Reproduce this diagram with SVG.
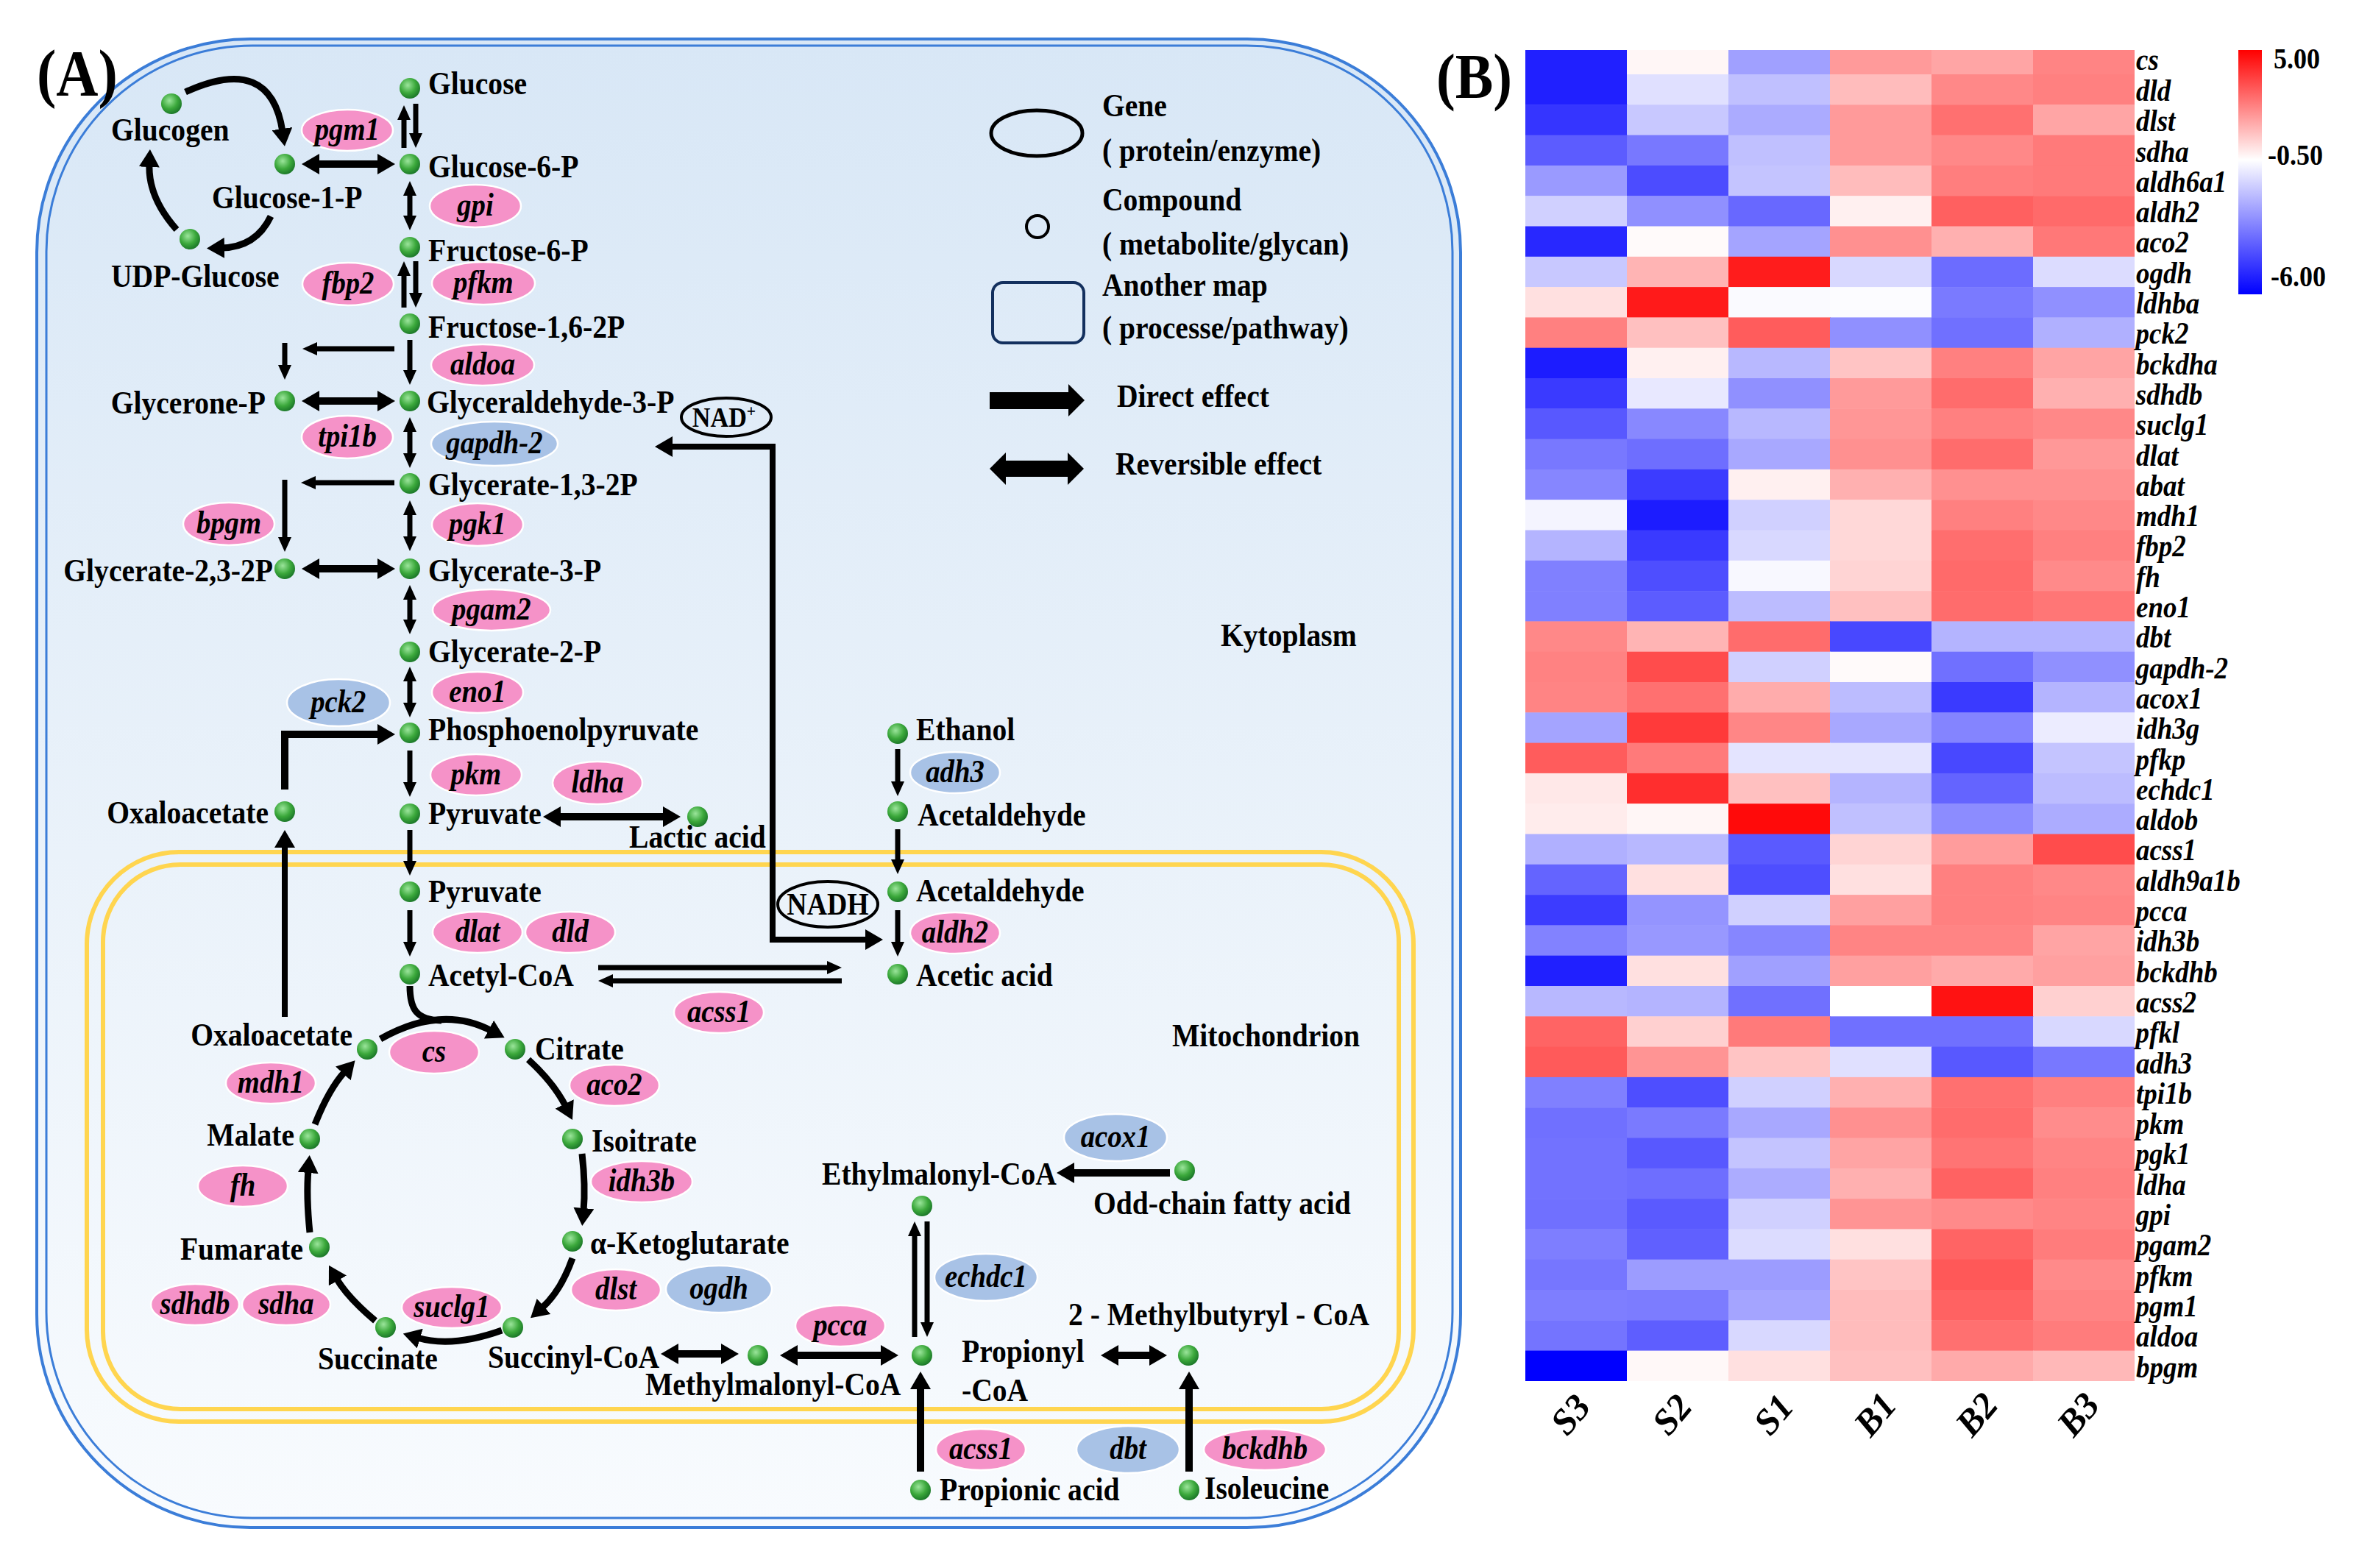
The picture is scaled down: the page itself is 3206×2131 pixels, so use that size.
<svg xmlns="http://www.w3.org/2000/svg" width="3206" height="2131" viewBox="0 0 3206 2131">
<style>
text{font-family:"Liberation Serif","Times New Roman",serif;fill:#000}
.c{font-weight:bold;font-size:44px;transform-box:fill-box;transform-origin:0 50%;transform:scale(0.9,1)}
.c.r{transform-origin:100% 50%}
.c.m{transform-origin:50% 50%}
.e{font-weight:bold;font-style:italic;font-size:44px;text-anchor:middle;transform-box:fill-box;transform-origin:50% 50%;transform:scale(0.88,1)}
.h{font-weight:bold;font-style:italic;font-size:42px;transform-box:fill-box;transform-origin:0 50%;transform:scale(0.88,1)}
.ln{fill:none;stroke:#000;stroke-width:7}
.tk{fill:none;stroke:#000;stroke-width:10}
.cv{fill:none;stroke:#000;stroke-width:9}
.pk{fill:#f592c8;stroke:#fff;stroke-width:2.5}
.bl{fill:#a8c2e6;stroke:#fff;stroke-width:2.5}
.dot{fill:url(#g)}
</style>
<defs>
<linearGradient id="cyto" x1="0" y1="0" x2="0" y2="1">
<stop offset="0" stop-color="#d8e7f6"/><stop offset="0.55" stop-color="#eaf2fa"/><stop offset="1" stop-color="#f8fbfe"/>
</linearGradient>
<linearGradient id="cbar" x1="0" y1="0" x2="0" y2="1">
<stop offset="0" stop-color="#ff0000"/><stop offset="0.45" stop-color="#ffffff"/><stop offset="1" stop-color="#0000ff"/>
</linearGradient>
<radialGradient id="g" cx="0.4" cy="0.35" r="0.65">
<stop offset="0" stop-color="#9be59b"/><stop offset="0.6" stop-color="#3ba83b"/><stop offset="1" stop-color="#1d7a2a"/>
</radialGradient>
<marker id="a" viewBox="0 0 20 18" refX="6" refY="9" markerWidth="20" markerHeight="18" markerUnits="userSpaceOnUse" orient="auto-start-reverse"><path d="M0,0 L20,9 L0,18 Z"/></marker>
<marker id="b" viewBox="0 0 24 28" refX="4" refY="14" markerWidth="24" markerHeight="28" markerUnits="userSpaceOnUse" orient="auto-start-reverse"><path d="M0,0 L24,14 L0,28 Z"/></marker>
</defs>
<rect width="3206" height="2131" fill="#fff"/>

<g id="cell">
<rect x="50" y="53" width="1935" height="2023" rx="290" fill="url(#cyto)" stroke="#3b7dd8" stroke-width="4"/>
<rect x="63" y="62" width="1911" height="2001" rx="280" fill="none" stroke="#3b7dd8" stroke-width="3"/>
</g>
<g id="mitochondrion">
<rect x="118" y="1158" width="1803" height="774" rx="125" fill="none" stroke="#ffd54f" stroke-width="6"/>
<rect x="140" y="1175" width="1761" height="740" rx="105" fill="none" stroke="#ffd54f" stroke-width="6"/>
</g>
<text class="c" x="50" y="129" style="font-size:88px">(A)</text>
<text class="c" x="1659" y="878">Kytoplasm</text>
<text class="c" x="1593" y="1422">Mitochondrion</text>

<g id="legend">
<ellipse cx="1409" cy="181" rx="62" ry="31" fill="none" stroke="#000" stroke-width="5"/>
<text class="c" x="1498" y="158">Gene</text>
<text class="c" x="1498" y="219">( protein/enzyme)</text>
<circle cx="1410" cy="308" r="15" fill="none" stroke="#000" stroke-width="4"/>
<text class="c" x="1498" y="286">Compound</text>
<text class="c" x="1498" y="346">( metabolite/glycan)</text>
<rect x="1349" y="384" width="124" height="82" rx="14" fill="none" stroke="#13305e" stroke-width="4"/>
<text class="c" x="1498" y="402">Another map</text>
<text class="c" x="1498" y="460">( processe/pathway)</text>
<polygon points="1345,533 1452,533 1452,522 1474,544 1452,566 1452,556 1345,556"/>
<text class="c" x="1518" y="553">Direct effect</text>
<polygon points="1345,637 1367,615 1367,626 1451,626 1451,615 1473,637 1451,659 1451,648 1367,648 1367,659"/>
<text class="c" x="1516" y="645">Reversible effect</text>
</g>

<g id="connectors">
<path class="ln" d="M549,201 L549,157" marker-end="url(#a)"/>
<path class="ln" d="M565,141 L565,187" marker-end="url(#a)"/>
<path class="ln" d="M557,260 L557,299" marker-start="url(#a)" marker-end="url(#a)"/>
<path class="ln" d="M549,418 L549,369" marker-end="url(#a)"/>
<path class="ln" d="M565,355 L565,404" marker-end="url(#a)"/>
<path class="ln" d="M557,462 L557,509" marker-end="url(#a)"/>
<path class="ln" d="M536,474 L425,474" marker-end="url(#a)"/>
<path class="ln" d="M387,466 L387,502" marker-end="url(#a)"/>
<path class="ln" d="M557,581 L557,622" marker-start="url(#a)" marker-end="url(#a)"/>
<path class="ln" d="M536,656 L423,656" marker-end="url(#a)"/>
<path class="ln" d="M387,652 L387,736" marker-end="url(#a)"/>
<path class="ln" d="M557,694 L557,735" marker-start="url(#a)" marker-end="url(#a)"/>
<path class="ln" d="M557,809 L557,848" marker-start="url(#a)" marker-end="url(#a)"/>
<path class="ln" d="M557,920 L557,961" marker-start="url(#a)" marker-end="url(#a)"/>
<path class="ln" d="M557,1020 L557,1069" marker-end="url(#a)"/>
<path class="ln" d="M557,1128 L557,1176" marker-end="url(#a)"/>
<path class="ln" d="M557,1237 L557,1286" marker-end="url(#a)"/>
<path class="ln" d="M1220,1018 L1220,1068" marker-end="url(#a)"/>
<path class="ln" d="M1220,1127 L1220,1174" marker-end="url(#a)"/>
<path class="ln" d="M1220,1237 L1220,1286" marker-end="url(#a)"/>
<path class="ln" d="M1243,1817 L1243,1674" marker-end="url(#a)"/>
<path class="ln" d="M1260,1660 L1260,1803" marker-end="url(#a)"/>
<path class="ln" d="M813,1315 L1130,1315" marker-end="url(#a)"/>
<path class="ln" d="M1144,1333 L827,1333" marker-end="url(#a)"/>
<path class="tk" d="M430,223 L517,223" marker-start="url(#b)" marker-end="url(#b)"/>
<path class="tk" d="M430,545 L517,545" marker-start="url(#b)" marker-end="url(#b)"/>
<path class="tk" d="M430,773 L517,773" marker-start="url(#b)" marker-end="url(#b)"/>
<path class="tk" d="M387,1073 L387,998 L517,998" marker-end="url(#b)"/>
<path class="tk" d="M758,1110 L905,1110" marker-start="url(#b)" marker-end="url(#b)"/>
<path class="tk" style="stroke-width:8" d="M387,1382 L387,1148" marker-end="url(#b)"/>
<path class="tk" d="M1590,1594 L1456,1594" marker-end="url(#b)"/>
<path class="tk" d="M918,1840 L984,1840" marker-start="url(#b)" marker-end="url(#b)"/>
<path class="tk" d="M1080,1842 L1201,1842" marker-start="url(#b)" marker-end="url(#b)"/>
<path class="tk" d="M1516,1842 L1566,1842" marker-start="url(#b)" marker-end="url(#b)"/>
<path class="tk" d="M1251,2000 L1251,1884" marker-end="url(#b)"/>
<path class="tk" d="M1616,2000 L1616,1884" marker-end="url(#b)"/>
<path class="tk" style="stroke-width:8" d="M1180,1277 L1050,1277 L1050,607 L910,607" marker-start="url(#b)" marker-end="url(#b)"/>
<path class="cv" d="M252,125 Q368,72 384,179" marker-end="url(#b)"/>
<path class="cv" d="M368,294 Q348,336 301,337" marker-end="url(#b)"/>
<path class="cv" d="M240,312 Q201,268 203,223" marker-end="url(#b)"/>
<path class="cv" d="M517,1412 Q600,1365 668,1401" marker-end="url(#b)"/>
<path class="cv" d="M557,1340 C557,1372 566,1386 600,1387"/>
<path class="cv" d="M718,1440 Q753,1472 769,1504" marker-end="url(#b)"/>
<path class="cv" d="M791,1568 Q796,1612 793,1646" marker-end="url(#b)"/>
<path class="cv" d="M778,1710 Q762,1755 736,1778" marker-end="url(#b)"/>
<path class="cv" d="M682,1808 Q615,1832 567,1818" marker-end="url(#b)"/>
<path class="cv" d="M510,1795 Q472,1763 457,1737" marker-end="url(#b)"/>
<path class="cv" d="M421,1675 Q416,1625 419,1590" marker-end="url(#b)"/>
<path class="cv" d="M428,1528 Q447,1480 469,1456" marker-end="url(#b)"/>
</g>

<g id="cofactors">
<g id="nadplus"><ellipse cx="987" cy="567" rx="61" ry="26" fill="none" stroke="#000" stroke-width="4"/><text class="c m" x="984" y="580" text-anchor="middle" style="font-size:38px">NAD<tspan dy="-14" style="font-size:24px">+</tspan></text></g>
<g id="nadh"><ellipse cx="1125" cy="1229" rx="68" ry="31" fill="none" stroke="#000" stroke-width="4"/><text class="c m" x="1125" y="1243" text-anchor="middle" style="font-size:42px">NADH</text></g>
</g>

<g id="enzymes">
<g id="e-pgm1"><ellipse class="pk" cx="472" cy="177" rx="62" ry="28"/><text class="e" x="472" y="190">pgm1</text></g>
<g id="e-gpi"><ellipse class="pk" cx="646" cy="280" rx="62" ry="29"/><text class="e" x="646" y="293">gpi</text></g>
<g id="e-fbp2"><ellipse class="pk" cx="473" cy="386" rx="62" ry="29"/><text class="e" x="473" y="399">fbp2</text></g>
<g id="e-pfkm"><ellipse class="pk" cx="657" cy="385" rx="70" ry="29"/><text class="e" x="657" y="398">pfkm</text></g>
<g id="e-aldoa"><ellipse class="pk" cx="656" cy="496" rx="70" ry="28"/><text class="e" x="656" y="509">aldoa</text></g>
<g id="e-tpi1b"><ellipse class="pk" cx="472" cy="594" rx="62" ry="29"/><text class="e" x="472" y="607">tpi1b</text></g>
<g id="e-gapdh2"><ellipse class="bl" cx="672" cy="603" rx="86" ry="30"/><text class="e" x="672" y="616">gapdh-2</text></g>
<g id="e-bpgm"><ellipse class="pk" cx="311" cy="712" rx="62" ry="29"/><text class="e" x="311" y="725">bpgm</text></g>
<g id="e-pgk1"><ellipse class="pk" cx="649" cy="713" rx="62" ry="29"/><text class="e" x="649" y="726">pgk1</text></g>
<g id="e-pgam2"><ellipse class="pk" cx="668" cy="829" rx="80" ry="28"/><text class="e" x="668" y="842">pgam2</text></g>
<g id="e-eno1"><ellipse class="pk" cx="649" cy="941" rx="62" ry="28"/><text class="e" x="649" y="954">eno1</text></g>
<g id="e-pck2"><ellipse class="bl" cx="460" cy="955" rx="70" ry="32"/><text class="e" x="460" y="968">pck2</text></g>
<g id="e-pkm"><ellipse class="pk" cx="647" cy="1053" rx="62" ry="28"/><text class="e" x="647" y="1066">pkm</text></g>
<g id="e-ldha"><ellipse class="pk" cx="812" cy="1064" rx="61" ry="29"/><text class="e" x="812" y="1077">ldha</text></g>
<g id="e-adh3"><ellipse class="bl" cx="1298" cy="1050" rx="61" ry="28"/><text class="e" x="1298" y="1063">adh3</text></g>
<g id="e-dlat"><ellipse class="pk" cx="649" cy="1267" rx="61" ry="28"/><text class="e" x="649" y="1280">dlat</text></g>
<g id="e-dld"><ellipse class="pk" cx="775" cy="1267" rx="61" ry="28"/><text class="e" x="775" y="1280">dld</text></g>
<g id="e-aldh2"><ellipse class="pk" cx="1298" cy="1268" rx="61" ry="28"/><text class="e" x="1298" y="1281">aldh2</text></g>
<g id="e-acss1a"><ellipse class="pk" cx="977" cy="1376" rx="61" ry="28"/><text class="e" x="977" y="1389">acss1</text></g>
<g id="e-cs"><ellipse class="pk" cx="590" cy="1430" rx="61" ry="29"/><text class="e" x="590" y="1443">cs</text></g>
<g id="e-mdh1"><ellipse class="pk" cx="368" cy="1472" rx="61" ry="28"/><text class="e" x="368" y="1485">mdh1</text></g>
<g id="e-aco2"><ellipse class="pk" cx="835" cy="1475" rx="61" ry="28"/><text class="e" x="835" y="1488">aco2</text></g>
<g id="e-idh3b"><ellipse class="pk" cx="872" cy="1606" rx="69" ry="28"/><text class="e" x="872" y="1619">idh3b</text></g>
<g id="e-fh"><ellipse class="pk" cx="330" cy="1612" rx="61" ry="28"/><text class="e" x="330" y="1625">fh</text></g>
<g id="e-dlst"><ellipse class="pk" cx="837" cy="1753" rx="61" ry="28"/><text class="e" x="837" y="1766">dlst</text></g>
<g id="e-ogdh"><ellipse class="bl" cx="977" cy="1752" rx="72" ry="32"/><text class="e" x="977" y="1765">ogdh</text></g>
<g id="e-sdhdb"><ellipse class="pk" cx="265" cy="1773" rx="60" ry="28"/><text class="e" x="265" y="1786">sdhdb</text></g>
<g id="e-sdha"><ellipse class="pk" cx="389" cy="1773" rx="60" ry="28"/><text class="e" x="389" y="1786">sdha</text></g>
<g id="e-suclg1"><ellipse class="pk" cx="614" cy="1777" rx="68" ry="28"/><text class="e" x="614" y="1790">suclg1</text></g>
<g id="e-acox1"><ellipse class="bl" cx="1516" cy="1546" rx="70" ry="32"/><text class="e" x="1516" y="1559">acox1</text></g>
<g id="e-echdc1"><ellipse class="bl" cx="1340" cy="1736" rx="70" ry="32"/><text class="e" x="1340" y="1749">echdc1</text></g>
<g id="e-pcca"><ellipse class="pk" cx="1142" cy="1802" rx="61" ry="28"/><text class="e" x="1142" y="1815">pcca</text></g>
<g id="e-acss1b"><ellipse class="pk" cx="1333" cy="1970" rx="61" ry="28"/><text class="e" x="1333" y="1983">acss1</text></g>
<g id="e-dbt"><ellipse class="bl" cx="1533" cy="1970" rx="70" ry="32"/><text class="e" x="1533" y="1983">dbt</text></g>
<g id="e-bckdhb"><ellipse class="pk" cx="1719" cy="1970" rx="83" ry="28"/><text class="e" x="1719" y="1983">bckdhb</text></g>
</g>

<g id="compounds">
<g id="glucose"><circle class="dot" cx="557" cy="120" r="14"/><text class="c" x="582" y="128">Glucose</text></g>
<g id="glucogen"><circle class="dot" cx="233" cy="141" r="14"/><text class="c" x="151" y="191">Glucogen</text></g>
<g id="glucose6p"><circle class="dot" cx="557" cy="223" r="14"/><text class="c" x="582" y="241">Glucose-6-P</text></g>
<g id="glucose1p"><circle class="dot" cx="387" cy="223" r="14"/><text class="c" x="288" y="283">Glucose-1-P</text></g>
<g id="udpglucose"><circle class="dot" cx="258" cy="325" r="14"/><text class="c" x="151" y="390">UDP-Glucose</text></g>
<g id="fructose6p"><circle class="dot" cx="557" cy="336" r="14"/><text class="c" x="582" y="355">Fructose-6-P</text></g>
<g id="fructose16"><circle class="dot" cx="557" cy="440" r="14"/><text class="c" x="582" y="459">Fructose-1,6-2P</text></g>
<g id="gap"><circle class="dot" cx="557" cy="545" r="14"/><text class="c" x="580" y="561">Glyceraldehyde-3-P</text></g>
<g id="glyceronep"><circle class="dot" cx="387" cy="545" r="14"/><text class="c r" x="361" y="562" text-anchor="end">Glycerone-P</text></g>
<g id="g13"><circle class="dot" cx="557" cy="657" r="14"/><text class="c" x="582" y="673">Glycerate-1,3-2P</text></g>
<g id="g3p"><circle class="dot" cx="557" cy="773" r="14"/><text class="c" x="582" y="790">Glycerate-3-P</text></g>
<g id="g23"><circle class="dot" cx="387" cy="773" r="14"/><text class="c r" x="371" y="790" text-anchor="end">Glycerate-2,3-2P</text></g>
<g id="g2p"><circle class="dot" cx="557" cy="886" r="14"/><text class="c" x="582" y="900">Glycerate-2-P</text></g>
<g id="pep"><circle class="dot" cx="557" cy="996" r="14"/><text class="c" x="582" y="1006">Phosphoenolpyruvate</text></g>
<g id="pyruvate"><circle class="dot" cx="557" cy="1106" r="14"/><text class="c" x="582" y="1120">Pyruvate</text></g>
<g id="lactic"><circle class="dot" cx="948" cy="1110" r="14"/><text class="c" x="855" y="1152">Lactic acid</text></g>
<g id="oaa-cyto"><circle class="dot" cx="387" cy="1103" r="14"/><text class="c r" x="365" y="1119" text-anchor="end">Oxaloacetate</text></g>
<g id="ethanol"><circle class="dot" cx="1220" cy="997" r="14"/><text class="c" x="1245" y="1006">Ethanol</text></g>
<g id="acetald1"><circle class="dot" cx="1220" cy="1103" r="14"/><text class="c" x="1247" y="1122">Acetaldehyde</text></g>
<g id="pyruvate-m"><circle class="dot" cx="557" cy="1212" r="14"/><text class="c" x="582" y="1226">Pyruvate</text></g>
<g id="acetald2"><circle class="dot" cx="1220" cy="1212" r="14"/><text class="c" x="1245" y="1225">Acetaldehyde</text></g>
<g id="acetylcoa"><circle class="dot" cx="557" cy="1324" r="14"/><text class="c" x="582" y="1340">Acetyl-CoA</text></g>
<g id="acetic"><circle class="dot" cx="1220" cy="1324" r="14"/><text class="c" x="1245" y="1340">Acetic acid</text></g>
<g id="oaa-tca"><circle class="dot" cx="499" cy="1426" r="14"/><text class="c r" x="479" y="1421" text-anchor="end">Oxaloacetate</text></g>
<g id="citrate"><circle class="dot" cx="700" cy="1426" r="14"/><text class="c" x="727" y="1440">Citrate</text></g>
<g id="isoitrate"><circle class="dot" cx="778" cy="1548" r="14"/><text class="c" x="804" y="1565">Isoitrate</text></g>
<g id="akg"><circle class="dot" cx="778" cy="1687" r="14"/><text class="c" x="802" y="1704">α-Ketoglutarate</text></g>
<g id="succcoa"><circle class="dot" cx="697" cy="1804" r="14"/><text class="c" x="663" y="1859">Succinyl-CoA</text></g>
<g id="succinate"><circle class="dot" cx="524" cy="1804" r="14"/><text class="c" x="432" y="1861">Succinate</text></g>
<g id="fumarate"><circle class="dot" cx="434" cy="1695" r="14"/><text class="c r" x="412" y="1712" text-anchor="end">Fumarate</text></g>
<g id="malate"><circle class="dot" cx="421" cy="1548" r="14"/><text class="c r" x="400" y="1557" text-anchor="end">Malate</text></g>
<g id="methylmalonyl"><circle class="dot" cx="1030" cy="1842" r="14"/><text class="c" x="877" y="1896">Methylmalonyl-CoA</text></g>
<g id="propionyl"><circle class="dot" cx="1253" cy="1842" r="14"/><text class="c" x="1307" y="1851">Propionyl</text><text class="c" x="1307" y="1904">-CoA</text></g>
<g id="ethylmalonyl"><circle class="dot" cx="1253" cy="1639" r="14"/><text class="c" x="1117" y="1610">Ethylmalonyl-CoA</text></g>
<g id="oddchain"><circle class="dot" cx="1610" cy="1591" r="14"/><text class="c" x="1486" y="1650">Odd-chain fatty acid</text></g>
<g id="methylbutyryl"><circle class="dot" cx="1615" cy="1842" r="14"/><text class="c" x="1452" y="1801">2 - Methylbutyryl - CoA</text></g>
<g id="propionic"><circle class="dot" cx="1251" cy="2025" r="14"/><text class="c" x="1277" y="2039">Propionic acid</text></g>
<g id="isoleucine"><circle class="dot" cx="1616" cy="2025" r="14"/><text class="c" x="1637" y="2037">Isoleucine</text></g>
</g>

<text class="c" x="1952" y="133" style="font-size:86px">(B)</text>
<g id="heatmap">
<g transform="translate(0,68)"><rect x="2073" width="139" height="33.5" fill="#2020ff"/><rect x="2211" width="139" height="33.5" fill="#fff6f6"/><rect x="2349" width="139" height="33.5" fill="#a0a0ff"/><rect x="2487" width="139" height="33.5" fill="#ff9a9a"/><rect x="2625" width="139" height="33.5" fill="#ffa5a5"/><rect x="2763" width="138" height="33.5" fill="#ff8484"/></g>
<g transform="translate(0,101)"><rect x="2073" width="139" height="41.8" fill="#2020ff"/><rect x="2211" width="139" height="41.8" fill="#e0e0ff"/><rect x="2349" width="139" height="41.8" fill="#c0c0ff"/><rect x="2487" width="139" height="41.8" fill="#ffbcbc"/><rect x="2625" width="139" height="41.8" fill="#ff8888"/><rect x="2763" width="138" height="41.8" fill="#ff8080"/></g>
<g transform="translate(0,142.3)"><rect x="2073" width="139" height="41.8" fill="#3535ff"/><rect x="2211" width="139" height="41.8" fill="#c8c8ff"/><rect x="2349" width="139" height="41.8" fill="#ababff"/><rect x="2487" width="139" height="41.8" fill="#ff9a9a"/><rect x="2625" width="139" height="41.8" fill="#ff7070"/><rect x="2763" width="138" height="41.8" fill="#ffa5a5"/></g>
<g transform="translate(0,183.6)"><rect x="2073" width="139" height="41.8" fill="#5c5cff"/><rect x="2211" width="139" height="41.8" fill="#7878ff"/><rect x="2349" width="139" height="41.8" fill="#c0c0ff"/><rect x="2487" width="139" height="41.8" fill="#ff9a9a"/><rect x="2625" width="139" height="41.8" fill="#ff8888"/><rect x="2763" width="138" height="41.8" fill="#ff7a7a"/></g>
<g transform="translate(0,224.9)"><rect x="2073" width="139" height="41.8" fill="#9a9aff"/><rect x="2211" width="139" height="41.8" fill="#4c4cff"/><rect x="2349" width="139" height="41.8" fill="#c4c4ff"/><rect x="2487" width="139" height="41.8" fill="#ffbcbc"/><rect x="2625" width="139" height="41.8" fill="#ff7e7e"/><rect x="2763" width="138" height="41.8" fill="#ff7a7a"/></g>
<g transform="translate(0,266.2)"><rect x="2073" width="139" height="41.8" fill="#d0d0ff"/><rect x="2211" width="139" height="41.8" fill="#9090ff"/><rect x="2349" width="139" height="41.8" fill="#6868ff"/><rect x="2487" width="139" height="41.8" fill="#fff0f0"/><rect x="2625" width="139" height="41.8" fill="#ff6060"/><rect x="2763" width="138" height="41.8" fill="#ff6a6a"/></g>
<g transform="translate(0,307.5)"><rect x="2073" width="139" height="41.8" fill="#2828ff"/><rect x="2211" width="139" height="41.8" fill="#fffafa"/><rect x="2349" width="139" height="41.8" fill="#a4a4ff"/><rect x="2487" width="139" height="41.8" fill="#ff9090"/><rect x="2625" width="139" height="41.8" fill="#ffb0b0"/><rect x="2763" width="138" height="41.8" fill="#ff7878"/></g>
<g transform="translate(0,348.8)"><rect x="2073" width="139" height="41.8" fill="#c8c8ff"/><rect x="2211" width="139" height="41.8" fill="#ffb4b4"/><rect x="2349" width="139" height="41.8" fill="#ff1c1c"/><rect x="2487" width="139" height="41.8" fill="#d8d8ff"/><rect x="2625" width="139" height="41.8" fill="#6c6cff"/><rect x="2763" width="138" height="41.8" fill="#dcdcff"/></g>
<g transform="translate(0,390.1)"><rect x="2073" width="139" height="41.8" fill="#ffe0e0"/><rect x="2211" width="139" height="41.8" fill="#ff1a1a"/><rect x="2349" width="139" height="41.8" fill="#fafaff"/><rect x="2487" width="139" height="41.8" fill="#fcfcff"/><rect x="2625" width="139" height="41.8" fill="#7a7aff"/><rect x="2763" width="138" height="41.8" fill="#9090ff"/></g>
<g transform="translate(0,431.4)"><rect x="2073" width="139" height="41.8" fill="#ff8080"/><rect x="2211" width="139" height="41.8" fill="#ffc0c0"/><rect x="2349" width="139" height="41.8" fill="#ff5c5c"/><rect x="2487" width="139" height="41.8" fill="#9090ff"/><rect x="2625" width="139" height="41.8" fill="#7070ff"/><rect x="2763" width="138" height="41.8" fill="#b0b0ff"/></g>
<g transform="translate(0,472.7)"><rect x="2073" width="139" height="41.8" fill="#1c1cff"/><rect x="2211" width="139" height="41.8" fill="#fff0f0"/><rect x="2349" width="139" height="41.8" fill="#b8b8ff"/><rect x="2487" width="139" height="41.8" fill="#ffc4c4"/><rect x="2625" width="139" height="41.8" fill="#ff8080"/><rect x="2763" width="138" height="41.8" fill="#ffa4a4"/></g>
<g transform="translate(0,514)"><rect x="2073" width="139" height="41.8" fill="#3a3aff"/><rect x="2211" width="139" height="41.8" fill="#e8e8ff"/><rect x="2349" width="139" height="41.8" fill="#9090ff"/><rect x="2487" width="139" height="41.8" fill="#ff9a9a"/><rect x="2625" width="139" height="41.8" fill="#ff6c6c"/><rect x="2763" width="138" height="41.8" fill="#ffb0b0"/></g>
<g transform="translate(0,555.3)"><rect x="2073" width="139" height="41.8" fill="#5858ff"/><rect x="2211" width="139" height="41.8" fill="#8888ff"/><rect x="2349" width="139" height="41.8" fill="#b8b8ff"/><rect x="2487" width="139" height="41.8" fill="#ff9696"/><rect x="2625" width="139" height="41.8" fill="#ff8080"/><rect x="2763" width="138" height="41.8" fill="#ff8888"/></g>
<g transform="translate(0,596.6)"><rect x="2073" width="139" height="41.8" fill="#7878ff"/><rect x="2211" width="139" height="41.8" fill="#6e6eff"/><rect x="2349" width="139" height="41.8" fill="#a8a8ff"/><rect x="2487" width="139" height="41.8" fill="#ff9090"/><rect x="2625" width="139" height="41.8" fill="#ff6c6c"/><rect x="2763" width="138" height="41.8" fill="#ff9898"/></g>
<g transform="translate(0,637.9)"><rect x="2073" width="139" height="41.8" fill="#8686ff"/><rect x="2211" width="139" height="41.8" fill="#3c3cff"/><rect x="2349" width="139" height="41.8" fill="#fff0f0"/><rect x="2487" width="139" height="41.8" fill="#ffb0b0"/><rect x="2625" width="139" height="41.8" fill="#ff9090"/><rect x="2763" width="138" height="41.8" fill="#ff9090"/></g>
<g transform="translate(0,679.2)"><rect x="2073" width="139" height="41.8" fill="#f4f4ff"/><rect x="2211" width="139" height="41.8" fill="#1c1cff"/><rect x="2349" width="139" height="41.8" fill="#d0d0ff"/><rect x="2487" width="139" height="41.8" fill="#ffd8d8"/><rect x="2625" width="139" height="41.8" fill="#ff8080"/><rect x="2763" width="138" height="41.8" fill="#ff8888"/></g>
<g transform="translate(0,720.5)"><rect x="2073" width="139" height="41.8" fill="#b4b4ff"/><rect x="2211" width="139" height="41.8" fill="#3a3aff"/><rect x="2349" width="139" height="41.8" fill="#d8d8ff"/><rect x="2487" width="139" height="41.8" fill="#ffd8d8"/><rect x="2625" width="139" height="41.8" fill="#ff6e6e"/><rect x="2763" width="138" height="41.8" fill="#ff8080"/></g>
<g transform="translate(0,761.8)"><rect x="2073" width="139" height="41.8" fill="#8080ff"/><rect x="2211" width="139" height="41.8" fill="#4e4eff"/><rect x="2349" width="139" height="41.8" fill="#f8f8ff"/><rect x="2487" width="139" height="41.8" fill="#ffd4d4"/><rect x="2625" width="139" height="41.8" fill="#ff6a6a"/><rect x="2763" width="138" height="41.8" fill="#ff8a8a"/></g>
<g transform="translate(0,803.1)"><rect x="2073" width="139" height="41.8" fill="#8080ff"/><rect x="2211" width="139" height="41.8" fill="#5c5cff"/><rect x="2349" width="139" height="41.8" fill="#bcbcff"/><rect x="2487" width="139" height="41.8" fill="#ffc0c0"/><rect x="2625" width="139" height="41.8" fill="#ff6c6c"/><rect x="2763" width="138" height="41.8" fill="#ff7676"/></g>
<g transform="translate(0,844.4)"><rect x="2073" width="139" height="41.8" fill="#ff8888"/><rect x="2211" width="139" height="41.8" fill="#ffb4b4"/><rect x="2349" width="139" height="41.8" fill="#ff6c6c"/><rect x="2487" width="139" height="41.8" fill="#4848ff"/><rect x="2625" width="139" height="41.8" fill="#b4b4ff"/><rect x="2763" width="138" height="41.8" fill="#b4b4ff"/></g>
<g transform="translate(0,885.7)"><rect x="2073" width="139" height="41.8" fill="#ff8282"/><rect x="2211" width="139" height="41.8" fill="#ff4c4c"/><rect x="2349" width="139" height="41.8" fill="#d0d0ff"/><rect x="2487" width="139" height="41.8" fill="#fffafa"/><rect x="2625" width="139" height="41.8" fill="#7070ff"/><rect x="2763" width="138" height="41.8" fill="#9090ff"/></g>
<g transform="translate(0,927)"><rect x="2073" width="139" height="41.8" fill="#ff8484"/><rect x="2211" width="139" height="41.8" fill="#ff7070"/><rect x="2349" width="139" height="41.8" fill="#ffacac"/><rect x="2487" width="139" height="41.8" fill="#bcbcff"/><rect x="2625" width="139" height="41.8" fill="#3a3aff"/><rect x="2763" width="138" height="41.8" fill="#b4b4ff"/></g>
<g transform="translate(0,968.3)"><rect x="2073" width="139" height="41.8" fill="#a4a4ff"/><rect x="2211" width="139" height="41.8" fill="#ff3a3a"/><rect x="2349" width="139" height="41.8" fill="#ff8686"/><rect x="2487" width="139" height="41.8" fill="#a8a8ff"/><rect x="2625" width="139" height="41.8" fill="#8484ff"/><rect x="2763" width="138" height="41.8" fill="#ececff"/></g>
<g transform="translate(0,1009.6)"><rect x="2073" width="139" height="41.8" fill="#ff5c5c"/><rect x="2211" width="139" height="41.8" fill="#ff7a7a"/><rect x="2349" width="139" height="41.8" fill="#e4e4ff"/><rect x="2487" width="139" height="41.8" fill="#e4e4ff"/><rect x="2625" width="139" height="41.8" fill="#4848ff"/><rect x="2763" width="138" height="41.8" fill="#c4c4ff"/></g>
<g transform="translate(0,1050.9)"><rect x="2073" width="139" height="41.8" fill="#ffe8e8"/><rect x="2211" width="139" height="41.8" fill="#ff2e2e"/><rect x="2349" width="139" height="41.8" fill="#ffc0c0"/><rect x="2487" width="139" height="41.8" fill="#b4b4ff"/><rect x="2625" width="139" height="41.8" fill="#6464ff"/><rect x="2763" width="138" height="41.8" fill="#bcbcff"/></g>
<g transform="translate(0,1092.2)"><rect x="2073" width="139" height="41.8" fill="#ffecec"/><rect x="2211" width="139" height="41.8" fill="#fff6f6"/><rect x="2349" width="139" height="41.8" fill="#ff0a0a"/><rect x="2487" width="139" height="41.8" fill="#c0c0ff"/><rect x="2625" width="139" height="41.8" fill="#8c8cff"/><rect x="2763" width="138" height="41.8" fill="#acacff"/></g>
<g transform="translate(0,1133.5)"><rect x="2073" width="139" height="41.8" fill="#b0b0ff"/><rect x="2211" width="139" height="41.8" fill="#b8b8ff"/><rect x="2349" width="139" height="41.8" fill="#5a5aff"/><rect x="2487" width="139" height="41.8" fill="#ffd4d4"/><rect x="2625" width="139" height="41.8" fill="#ff9c9c"/><rect x="2763" width="138" height="41.8" fill="#ff4c4c"/></g>
<g transform="translate(0,1174.8)"><rect x="2073" width="139" height="41.8" fill="#6464ff"/><rect x="2211" width="139" height="41.8" fill="#ffe0e0"/><rect x="2349" width="139" height="41.8" fill="#4e4eff"/><rect x="2487" width="139" height="41.8" fill="#ffe0e0"/><rect x="2625" width="139" height="41.8" fill="#ff8080"/><rect x="2763" width="138" height="41.8" fill="#ff8888"/></g>
<g transform="translate(0,1216.1)"><rect x="2073" width="139" height="41.8" fill="#3c3cff"/><rect x="2211" width="139" height="41.8" fill="#9494ff"/><rect x="2349" width="139" height="41.8" fill="#d0d0ff"/><rect x="2487" width="139" height="41.8" fill="#ffa0a0"/><rect x="2625" width="139" height="41.8" fill="#ff8080"/><rect x="2763" width="138" height="41.8" fill="#ff8484"/></g>
<g transform="translate(0,1257.4)"><rect x="2073" width="139" height="41.8" fill="#8282ff"/><rect x="2211" width="139" height="41.8" fill="#9898ff"/><rect x="2349" width="139" height="41.8" fill="#8686ff"/><rect x="2487" width="139" height="41.8" fill="#ff8484"/><rect x="2625" width="139" height="41.8" fill="#ff8484"/><rect x="2763" width="138" height="41.8" fill="#ffa4a4"/></g>
<g transform="translate(0,1298.7)"><rect x="2073" width="139" height="41.8" fill="#2020ff"/><rect x="2211" width="139" height="41.8" fill="#ffe0e0"/><rect x="2349" width="139" height="41.8" fill="#a0a0ff"/><rect x="2487" width="139" height="41.8" fill="#ffa0a0"/><rect x="2625" width="139" height="41.8" fill="#ffaaaa"/><rect x="2763" width="138" height="41.8" fill="#ffa0a0"/></g>
<g transform="translate(0,1340)"><rect x="2073" width="139" height="41.8" fill="#b8b8ff"/><rect x="2211" width="139" height="41.8" fill="#b4b4ff"/><rect x="2349" width="139" height="41.8" fill="#7070ff"/><rect x="2487" width="139" height="41.8" fill="#ffffff"/><rect x="2625" width="139" height="41.8" fill="#ff1212"/><rect x="2763" width="138" height="41.8" fill="#ffd0d0"/></g>
<g transform="translate(0,1381.3)"><rect x="2073" width="139" height="41.8" fill="#ff6464"/><rect x="2211" width="139" height="41.8" fill="#ffd0d0"/><rect x="2349" width="139" height="41.8" fill="#ff7a7a"/><rect x="2487" width="139" height="41.8" fill="#7070ff"/><rect x="2625" width="139" height="41.8" fill="#7070ff"/><rect x="2763" width="138" height="41.8" fill="#d8d8ff"/></g>
<g transform="translate(0,1422.6)"><rect x="2073" width="139" height="41.8" fill="#ff5a5a"/><rect x="2211" width="139" height="41.8" fill="#ff9494"/><rect x="2349" width="139" height="41.8" fill="#ffc4c4"/><rect x="2487" width="139" height="41.8" fill="#e0e0ff"/><rect x="2625" width="139" height="41.8" fill="#5858ff"/><rect x="2763" width="138" height="41.8" fill="#7878ff"/></g>
<g transform="translate(0,1463.9)"><rect x="2073" width="139" height="41.8" fill="#8080ff"/><rect x="2211" width="139" height="41.8" fill="#4e4eff"/><rect x="2349" width="139" height="41.8" fill="#d0d0ff"/><rect x="2487" width="139" height="41.8" fill="#ffb0b0"/><rect x="2625" width="139" height="41.8" fill="#ff7070"/><rect x="2763" width="138" height="41.8" fill="#ff8080"/></g>
<g transform="translate(0,1505.2)"><rect x="2073" width="139" height="41.8" fill="#7070ff"/><rect x="2211" width="139" height="41.8" fill="#7a7aff"/><rect x="2349" width="139" height="41.8" fill="#a8a8ff"/><rect x="2487" width="139" height="41.8" fill="#ff9090"/><rect x="2625" width="139" height="41.8" fill="#ff6c6c"/><rect x="2763" width="138" height="41.8" fill="#ff8c8c"/></g>
<g transform="translate(0,1546.5)"><rect x="2073" width="139" height="41.8" fill="#7272ff"/><rect x="2211" width="139" height="41.8" fill="#5858ff"/><rect x="2349" width="139" height="41.8" fill="#c4c4ff"/><rect x="2487" width="139" height="41.8" fill="#ffa4a4"/><rect x="2625" width="139" height="41.8" fill="#ff7474"/><rect x="2763" width="138" height="41.8" fill="#ff8484"/></g>
<g transform="translate(0,1587.8)"><rect x="2073" width="139" height="41.8" fill="#7272ff"/><rect x="2211" width="139" height="41.8" fill="#6e6eff"/><rect x="2349" width="139" height="41.8" fill="#acacff"/><rect x="2487" width="139" height="41.8" fill="#ffb0b0"/><rect x="2625" width="139" height="41.8" fill="#ff6262"/><rect x="2763" width="138" height="41.8" fill="#ff8080"/></g>
<g transform="translate(0,1629.1)"><rect x="2073" width="139" height="41.8" fill="#7070ff"/><rect x="2211" width="139" height="41.8" fill="#5a5aff"/><rect x="2349" width="139" height="41.8" fill="#d0d0ff"/><rect x="2487" width="139" height="41.8" fill="#ff9494"/><rect x="2625" width="139" height="41.8" fill="#ff8a8a"/><rect x="2763" width="138" height="41.8" fill="#ff8484"/></g>
<g transform="translate(0,1670.4)"><rect x="2073" width="139" height="41.8" fill="#7e7eff"/><rect x="2211" width="139" height="41.8" fill="#6060ff"/><rect x="2349" width="139" height="41.8" fill="#dcdcff"/><rect x="2487" width="139" height="41.8" fill="#ffe0e0"/><rect x="2625" width="139" height="41.8" fill="#ff6464"/><rect x="2763" width="138" height="41.8" fill="#ff7c7c"/></g>
<g transform="translate(0,1711.7)"><rect x="2073" width="139" height="41.8" fill="#7676ff"/><rect x="2211" width="139" height="41.8" fill="#9c9cff"/><rect x="2349" width="139" height="41.8" fill="#9c9cff"/><rect x="2487" width="139" height="41.8" fill="#ffc4c4"/><rect x="2625" width="139" height="41.8" fill="#ff5858"/><rect x="2763" width="138" height="41.8" fill="#ff8a8a"/></g>
<g transform="translate(0,1753)"><rect x="2073" width="139" height="41.8" fill="#7e7eff"/><rect x="2211" width="139" height="41.8" fill="#7c7cff"/><rect x="2349" width="139" height="41.8" fill="#a4a4ff"/><rect x="2487" width="139" height="41.8" fill="#ffbcbc"/><rect x="2625" width="139" height="41.8" fill="#ff6262"/><rect x="2763" width="138" height="41.8" fill="#ff8484"/></g>
<g transform="translate(0,1794.3)"><rect x="2073" width="139" height="41.8" fill="#7474ff"/><rect x="2211" width="139" height="41.8" fill="#5e5eff"/><rect x="2349" width="139" height="41.8" fill="#d8d8ff"/><rect x="2487" width="139" height="41.8" fill="#ffbcbc"/><rect x="2625" width="139" height="41.8" fill="#ff7070"/><rect x="2763" width="138" height="41.8" fill="#ff7c7c"/></g>
<g transform="translate(0,1835.6)"><rect x="2073" width="139" height="41.4" fill="#0000ff"/><rect x="2211" width="139" height="41.4" fill="#fff8f8"/><rect x="2349" width="139" height="41.4" fill="#ffe0e0"/><rect x="2487" width="139" height="41.4" fill="#ffc0c0"/><rect x="2625" width="139" height="41.4" fill="#ffaaaa"/><rect x="2763" width="138" height="41.4" fill="#ffb8b8"/></g>
</g>
<g id="heatmap-rows">
<text class="h" x="2903" y="95.5">cs</text>
<text class="h" x="2903" y="137">dld</text>
<text class="h" x="2903" y="178.3">dlst</text>
<text class="h" x="2903" y="219.6">sdha</text>
<text class="h" x="2903" y="260.9">aldh6a1</text>
<text class="h" x="2903" y="302.2">aldh2</text>
<text class="h" x="2903" y="343.5">aco2</text>
<text class="h" x="2903" y="384.8">ogdh</text>
<text class="h" x="2903" y="426.1">ldhba</text>
<text class="h" x="2903" y="467.4">pck2</text>
<text class="h" x="2903" y="508.7">bckdha</text>
<text class="h" x="2903" y="550">sdhdb</text>
<text class="h" x="2903" y="591.3">suclg1</text>
<text class="h" x="2903" y="632.6">dlat</text>
<text class="h" x="2903" y="673.9">abat</text>
<text class="h" x="2903" y="715.2">mdh1</text>
<text class="h" x="2903" y="756.5">fbp2</text>
<text class="h" x="2903" y="797.8">fh</text>
<text class="h" x="2903" y="839.1">eno1</text>
<text class="h" x="2903" y="880.4">dbt</text>
<text class="h" x="2903" y="921.7">gapdh-2</text>
<text class="h" x="2903" y="963">acox1</text>
<text class="h" x="2903" y="1004.3">idh3g</text>
<text class="h" x="2903" y="1045.6">pfkp</text>
<text class="h" x="2903" y="1086.9">echdc1</text>
<text class="h" x="2903" y="1128.2">aldob</text>
<text class="h" x="2903" y="1169.5">acss1</text>
<text class="h" x="2903" y="1210.8">aldh9a1b</text>
<text class="h" x="2903" y="1252.1">pcca</text>
<text class="h" x="2903" y="1293.4">idh3b</text>
<text class="h" x="2903" y="1334.7">bckdhb</text>
<text class="h" x="2903" y="1376">acss2</text>
<text class="h" x="2903" y="1417.3">pfkl</text>
<text class="h" x="2903" y="1458.6">adh3</text>
<text class="h" x="2903" y="1499.9">tpi1b</text>
<text class="h" x="2903" y="1541.2">pkm</text>
<text class="h" x="2903" y="1582.5">pgk1</text>
<text class="h" x="2903" y="1623.8">ldha</text>
<text class="h" x="2903" y="1665.1">gpi</text>
<text class="h" x="2903" y="1706.4">pgam2</text>
<text class="h" x="2903" y="1747.7">pfkm</text>
<text class="h" x="2903" y="1789">pgm1</text>
<text class="h" x="2903" y="1830.3">aldoa</text>
<text class="h" x="2903" y="1871.6">bpgm</text>
</g>
<g id="heatmap-columns" style="font-weight:bold;font-style:italic;font-size:50px">
<text transform="translate(2147,1933) rotate(-50)" text-anchor="middle">S3</text>
<text transform="translate(2285,1933) rotate(-50)" text-anchor="middle">S2</text>
<text transform="translate(2423,1933) rotate(-50)" text-anchor="middle">S1</text>
<text transform="translate(2561,1933) rotate(-50)" text-anchor="middle">B1</text>
<text transform="translate(2699,1933) rotate(-50)" text-anchor="middle">B2</text>
<text transform="translate(2837,1933) rotate(-50)" text-anchor="middle">B3</text>
</g>
<g id="colorbar">
<rect x="3042" y="68" width="32" height="332" fill="url(#cbar)"/>
<text class="c" x="3090" y="93" style="font-size:40px">5.00</text>
<text class="c" x="3082" y="224" style="font-size:40px">-0.50</text>
<text class="c" x="3086" y="389" style="font-size:40px">-6.00</text>
</g>
</svg>
